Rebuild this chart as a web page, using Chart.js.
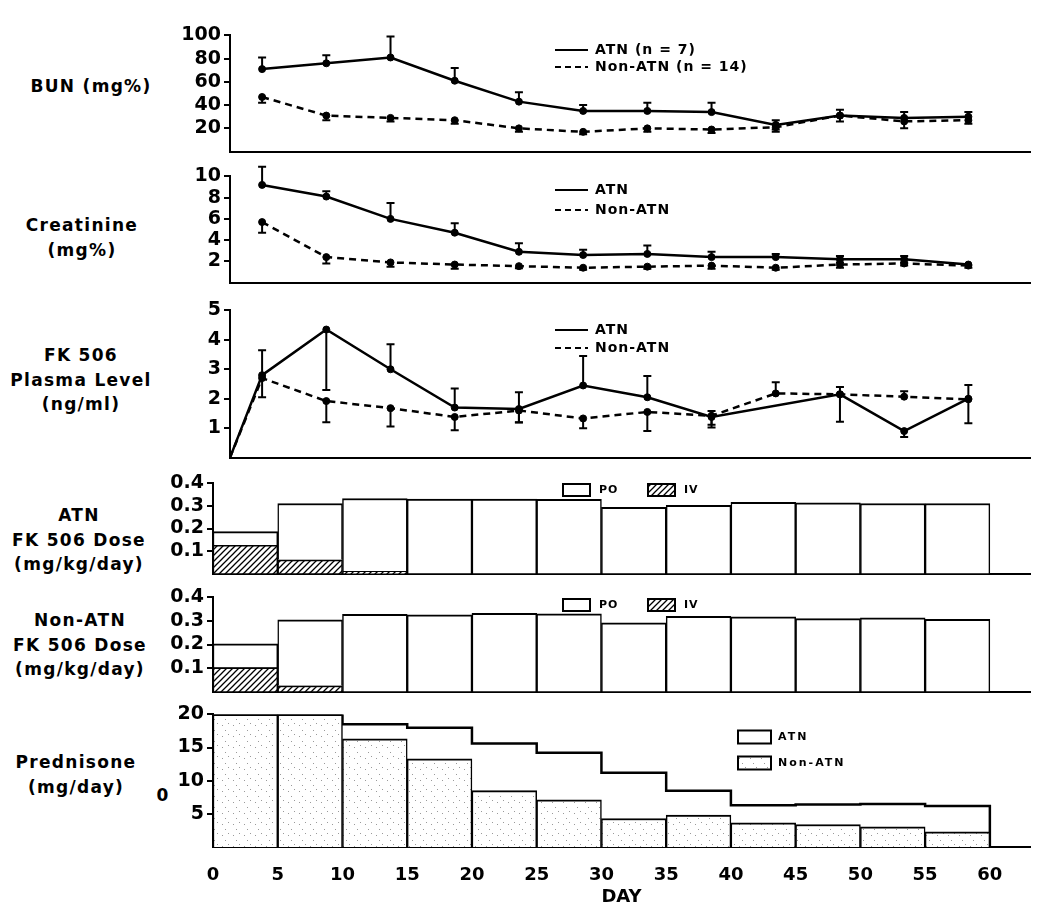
<!DOCTYPE html>
<html>
<head>
<meta charset="utf-8">
<script src="https://cdn.jsdelivr.net/npm/chart.js@4.4.1/dist/chart.umd.min.js"></script>
<style>
  html, body { margin: 0; padding: 0; background: #fff; }
  #page { position: relative; width: 1050px; height: 919px; overflow: hidden; font-family: "DejaVu Sans", sans-serif; }
  #page canvas { position: absolute; left: 0; }
  .ylab { position: absolute; width: 200px; text-align: center; font-weight: bold; font-size: 17px;
          letter-spacing: 1.3px; line-height: 24.5px; color: #000; }
</style>
</head>
<body>
<div id="page">
  <div class="ylab" style="left:-9px;top:74px">BUN (mg%)</div>
  <div class="ylab" style="left:-18px;top:213px">Creatinine<br>(mg%)</div>
  <div class="ylab" style="left:-19px;top:343px">FK 506<br>Plasma Level<br>(ng/ml)</div>
  <div class="ylab" style="left:-21px;top:503px">ATN<br>FK 506 Dose<br>(mg/kg/day)</div>
  <div class="ylab" style="left:-20px;top:608px">Non-ATN<br>FK 506 Dose<br>(mg/kg/day)</div>
  <div class="ylab" style="left:-24px;top:750px">Prednisone<br>(mg/day)</div>
  <div class="ylab" style="left:63px;top:783px">0</div>
</div>
<script>
// days: middle of each 5-day interval
var days = [2.5, 7.5, 12.5, 17.5, 22.5, 27.5, 32.5, 37.5, 42.5, 47.5, 52.5, 57.5];
var dayTicks = [0, 5, 10, 15, 20, 25, 30, 35, 40, 45, 50, 55, 60];

// BUN (mg%)
var bunTicks = [20, 40, 60, 80, 100];
var bunAtn = [71, 76, 81, 61, 43, 35, 35, 34, 23, 31, 29, 30];
var bunAtnUp = [10, 7, 18, 11, 8, 5, 7, 8, 4, 5, 5, 4];
var bunAtnDown = [0, 0, 0, 0, 0, 0, 0, 0, 4, 0, 0, 0];
var bunNon = [47, 31, 29, 27, 20, 17, 20, 19, 21, 31, 26, 27];
var bunNonUp = [0, 0, 0, 0, 0, 0, 0, 0, 0, 0, 3, 0];
var bunNonDown = [5, 4, 3, 3, 3, 2, 3, 3, 4, 5, 6, 3];

// Creatinine (mg%)
var crTicks = [2, 4, 6, 8, 10];
var crAtn = [9.2, 8.1, 6.0, 4.7, 2.9, 2.6, 2.7, 2.4, 2.4, 2.2, 2.2, 1.7];
var crAtnUp = [1.7, 0.5, 1.5, 0.9, 0.8, 0.5, 0.8, 0.5, 0.3, 0.3, 0.3, 0];
var crAtnDown = [0, 0, 0, 0, 0, 0, 0, 0, 0, 0.3, 0.3, 0];
var crNon = [5.7, 2.4, 1.9, 1.7, 1.55, 1.4, 1.5, 1.6, 1.4, 1.7, 1.8, 1.6];
var crNonUp = [0, 0, 0, 0, 0, 0, 0, 0, 0, 0, 0, 0];
var crNonDown = [1.0, 0.6, 0.4, 0.4, 0.2, 0.2, 0.2, 0.3, 0.2, 0.3, 0.2, 0.2];

// FK 506 plasma level (ng/ml), starts at day 0
var fkDays = [0].concat(days);
var fkTicks = [1, 2, 3, 4, 5];
var fkAtn = [0, 2.8, 4.35, 3.0, 1.7, 1.65, 2.45, 2.05, 1.38, null, 2.15, 0.9, 2.0];
var fkAtnUp = [0, 0.85, 0, 0.85, 0.65, 0.57, 1.0, 0.72, 0.2, 0, 0.25, 0, 0.47];
var fkAtnDown = [0, 0, 2.05, 0, 0, 0.46, 0, 0, 0.36, 0, 0.93, 0.2, 0.83];
var fkNon = [0, 2.7, 1.92, 1.68, 1.38, 1.6, 1.33, 1.55, 1.42, 2.18, 2.15, 2.07, 1.98];
var fkNonUp = [0, 0, 0, 0, 0, 0, 0, 0, 0, 0.38, 0, 0.18, 0];
var fkNonDown = [0, 0.65, 0.72, 0.62, 0.45, 0.4, 0.33, 0.65, 0.3, 0, 0, 0, 0];

// FK 506 dose (mg/kg/day): total and IV part
var doseTicks = [0.1, 0.2, 0.3, 0.4];
var doseAtnTotal = [0.186, 0.311, 0.333, 0.331, 0.330, 0.329, 0.294, 0.303, 0.316, 0.314, 0.311, 0.311];
var doseAtnIV = [0.128, 0.062, 0.011, 0, 0, 0, 0, 0, 0, 0, 0, 0];
var doseNonTotal = [0.203, 0.305, 0.328, 0.326, 0.332, 0.330, 0.292, 0.320, 0.317, 0.310, 0.313, 0.307];
var doseNonIV = [0.103, 0.026, 0, 0, 0, 0, 0, 0, 0, 0, 0, 0];

// Prednisone (mg/day)
var predTicks = [5, 10, 15, 20];
var predAtn = [20, 20, 18.5, 18.0, 15.6, 14.2, 11.2, 8.5, 6.3, 6.4, 6.5, 6.2];
var predNon = [20, 20, 16.3, 13.3, 8.5, 7.1, 4.3, 4.8, 3.65, 3.4, 3.05, 2.3];

var UPPER_XMAX = 62.3, LOWER_XMAX = 63.1;
var FONT = 'DejaVu Sans';

Chart.defaults.font.family = FONT;
Chart.defaults.color = '#000';

function pts(xs, ys) {
  return xs.map(function(x, i) { return { x: x, y: ys[i] }; });
}
function floating(xs, lo, hi) {
  return xs.map(function(x, i) {
    var a = lo ? lo[i] : 0;
    return { x: x, y: hi[i] > a ? [a, hi[i]] : null };
  });
}
// step outline: each value held from its interval start to the next, closed down at the end
function steps(edges, ys) {
  var out = ys.map(function(y, i) { return { x: edges[i], y: y }; });
  var end = edges[ys.length];
  out.push({ x: end, y: ys[ys.length - 1] });
  out.push({ x: end, y: 0 });
  return out;
}

function patternFrom(c) {
  return document.createElement('canvas').getContext('2d').createPattern(c, 'repeat');
}
function hatch() {
  var c = document.createElement('canvas'); c.width = 6; c.height = 6;
  var g = c.getContext('2d');
  g.fillStyle = '#fff'; g.fillRect(0, 0, 6, 6);
  g.strokeStyle = '#000'; g.lineWidth = 1.3;
  g.beginPath();
  g.moveTo(0, 6); g.lineTo(6, 0);
  g.moveTo(-1, 1); g.lineTo(1, -1);
  g.moveTo(5, 7); g.lineTo(7, 5);
  g.stroke();
  return patternFrom(c);
}
function stipple() {
  var c = document.createElement('canvas'); c.width = 11; c.height = 11;
  var g = c.getContext('2d');
  g.fillStyle = '#fff'; g.fillRect(0, 0, 11, 11);
  g.fillStyle = '#9a9a9a';
  g.fillRect(2, 3, 1, 1); g.fillRect(8, 1, 1, 1); g.fillRect(5, 8, 1, 1);
  return patternFrom(c);
}

var errorBars = {
  id: 'errorBars',
  afterDatasetsDraw: function(chart) {
    var ctx = chart.ctx, xs = chart.scales.x, ys = chart.scales.y;
    chart.data.datasets.forEach(function(ds) {
      if (!ds.errUp) return;
      ctx.save();
      ctx.strokeStyle = '#000';
      ctx.lineWidth = 2;
      ds.data.forEach(function(p, i) {
        if (p.y === null) return;
        var px = xs.getPixelForValue(p.x), y0 = ys.getPixelForValue(p.y);
        [[ds.errUp[i], 1], [ds.errDown[i], -1]].forEach(function(e) {
          if (!e[0]) return;
          var y1 = ys.getPixelForValue(p.y + e[0] * e[1]);
          ctx.beginPath();
          ctx.moveTo(px, y0); ctx.lineTo(px, y1);
          ctx.moveTo(px - 4, y1); ctx.lineTo(px + 4, y1);
          ctx.stroke();
        });
      });
      ctx.restore();
    });
  }
};

var insetLegend = {
  id: 'insetLegend',
  afterDraw: function(chart, args, o) {
    if (!o.pos) return;
    var ctx = chart.ctx;
    ctx.save();
    ctx.font = 'bold ' + o.size + 'px "' + FONT + '"';
    ctx.letterSpacing = o.spacing + 'px';
    ctx.textBaseline = 'middle';
    ctx.textAlign = 'left';
    ctx.strokeStyle = '#000';
    chart.data.datasets.forEach(function(ds, i) {
      var x = o.pos[i][0], y = o.pos[i][1] - o.offsetY;
      if (o.kind === 'line') {
        ctx.lineWidth = 2;
        ctx.setLineDash(ds.borderDash ? [6, 4] : []);
        ctx.beginPath(); ctx.moveTo(x, y); ctx.lineTo(x + o.w, y); ctx.stroke();
        ctx.setLineDash([]);
      } else {
        ctx.fillStyle = ds.backgroundColor;
        ctx.fillRect(x, y - o.h / 2, o.w, o.h);
        ctx.lineWidth = 2;
        ctx.strokeRect(x, y - o.h / 2, o.w, o.h);
      }
      ctx.fillStyle = '#000';
      ctx.fillText(ds.label, x + o.w + o.gap, y);
    });
    ctx.restore();
  }
};

function yAxis(ticks, axisLeft) {
  return {
    min: 0, max: ticks[ticks.length - 1],
    afterBuildTicks: function(s) { s.ticks = ticks.map(function(v) { return { value: v }; }); },
    afterFit: function(s) { s.width = axisLeft; },
    border: { display: true, color: '#000', width: 2 },
    grid: { display: true, drawOnChartArea: false, drawTicks: true, tickLength: 6,
            lineWidth: 2, tickWidth: 2, tickColor: '#000', color: '#000' },
    ticks: { color: '#000', padding: 3, font: { size: 19, weight: 'bold' },
             callback: function(v) { return v; } }
  };
}

function xAxis(max, showLabels) {
  return {
    type: 'linear', min: 0, max: max, offset: false,
    afterBuildTicks: function(s) { s.ticks = dayTicks.map(function(v) { return { value: v }; }); },
    afterFit: showLabels ? function(s) { s.height = 72; } : function(s) { s.height = 0; },
    border: { display: true, color: '#000', width: 2 },
    grid: { display: false, offset: false },
    ticks: { display: showLabels, color: '#000', padding: 10, maxRotation: 0, autoSkip: false,
             font: { size: 18, weight: 'bold' } },
    title: { display: showLabels, text: 'DAY', color: '#000', font: { size: 18, weight: 'bold' },
             padding: { top: 0, bottom: 11 } }
  };
}

function panel(type, top, bottom, axisLeft, xMax, yTicks, datasets, legend, showX) {
  var padTop = 14, padBottom = showX ? 0 : 3;
  var height = padTop + (bottom - top) + padBottom + (showX ? 72 : 0);
  var c = document.createElement('canvas');
  c.width = 1050; c.height = height;
  c.style.top = (top - padTop) + 'px';
  document.getElementById('page').appendChild(c);
  legend.offsetY = top - padTop;
  return new Chart(c, {
    type: type,
    data: { datasets: datasets },
    options: {
      responsive: false, animation: false, devicePixelRatio: 1, events: [],
      layout: { padding: { top: padTop, right: 20, bottom: padBottom, left: 0 } },
      scales: { x: xAxis(xMax, showX), y: yAxis(yTicks, axisLeft) },
      plugins: { legend: { display: false }, tooltip: { enabled: false }, insetLegend: legend }
    },
    plugins: [errorBars, insetLegend]
  });
}

function lineSet(label, xs, ys, up, down, dashed) {
  return {
    label: label, data: pts(xs, ys), errUp: up, errDown: down,
    borderColor: '#000', borderWidth: 2.5, borderDash: dashed ? [7, 5] : undefined,
    pointRadius: function(c) { return c.raw && c.raw.y === 0 ? 0 : 3.5; },
    pointBackgroundColor: '#000', pointBorderColor: '#000', pointBorderWidth: 1,
    tension: 0, fill: false, spanGaps: true
  };
}

function barSet(label, data, fill, order) {
  return {
    label: label, data: data, backgroundColor: fill, borderColor: '#000',
    borderWidth: { top: 2, left: 1.5, right: 1.5, bottom: 0 }, borderSkipped: 'start',
    barPercentage: 1, categoryPercentage: 1, grouped: false, order: order
  };
}

function stepSet(label, data, order) {
  return {
    type: 'line', label: label, data: data, stepped: true, order: order,
    borderColor: '#000', borderWidth: 2.5, backgroundColor: '#fff', fill: 'origin',
    pointRadius: 0
  };
}

function legendAt(base, pos) {
  var o = {}; for (var k in base) o[k] = base[k];
  o.pos = pos; return o;
}
var lineLegend = { kind: 'line', size: 14, spacing: 1, w: 33, h: 0, gap: 7 };
var doseLegend = { kind: 'box', size: 11, spacing: 1, w: 27, h: 12, gap: 9 };
var predLegend = { kind: 'box', size: 11, spacing: 2, w: 33, h: 13, gap: 7 };

panel('line', 35, 163, 230, UPPER_XMAX, bunTicks, [
  lineSet('ATN (n = 7)', days, bunAtn, bunAtnUp, bunAtnDown, false),
  lineSet('Non-ATN (n = 14)', days, bunNon, bunNonUp, bunNonDown, true)
], legendAt(lineLegend, [[555, 50], [555, 67]]), false);

panel('line', 176, 294, 230, UPPER_XMAX, crTicks, [
  lineSet('ATN', days, crAtn, crAtnUp, crAtnDown, false),
  lineSet('Non-ATN', days, crNon, crNonUp, crNonDown, true)
], legendAt(lineLegend, [[555, 190], [555, 210]]), false);

panel('line', 310, 469, 230, UPPER_XMAX, fkTicks, [
  lineSet('ATN', fkDays, fkAtn, fkAtnUp, fkAtnDown, false),
  lineSet('Non-ATN', fkDays, fkNon, fkNonUp, fkNonDown, true)
], legendAt(lineLegend, [[555, 330], [555, 348]]), false);

var hatchFill = hatch(), stippleFill = stipple();

panel('bar', 483, 585, 213, LOWER_XMAX, doseTicks, [
  barSet('PO', floating(days, doseAtnIV, doseAtnTotal), '#fff', 1),
  barSet('IV', floating(days, null, doseAtnIV), hatchFill, 2)
], legendAt(doseLegend, [[563, 490], [648, 490]]), false);

panel('bar', 597, 703, 213, LOWER_XMAX, doseTicks, [
  barSet('PO', floating(days, doseNonIV, doseNonTotal), '#fff', 1),
  barSet('IV', floating(days, null, doseNonIV), hatchFill, 2)
], legendAt(doseLegend, [[563, 605], [648, 605]]), false);

panel('bar', 714, 847, 213, LOWER_XMAX, predTicks, [
  stepSet('ATN', steps(dayTicks, predAtn), 2),
  barSet('Non-ATN', pts(days, predNon), stippleFill, 1)
], legendAt(predLegend, [[738, 737], [738, 763]]), true);
</script>
</body>
</html>
